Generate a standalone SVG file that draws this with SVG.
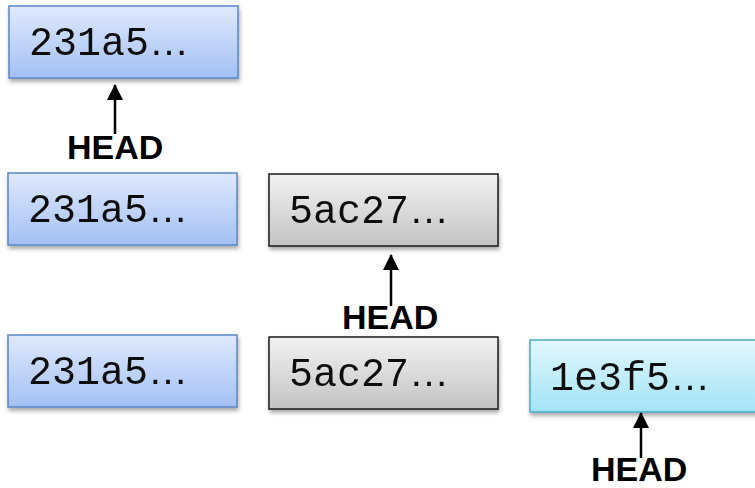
<svg xmlns="http://www.w3.org/2000/svg" width="755" height="488" viewBox="0 0 755 488">
  <defs>
    <linearGradient id="gBlue" x1="0" y1="0" x2="0" y2="1">
      <stop offset="0" stop-color="#dfe9fc"/>
      <stop offset="1" stop-color="#a3c0f3"/>
    </linearGradient>
    <linearGradient id="gGray" x1="0" y1="0" x2="0" y2="1">
      <stop offset="0" stop-color="#f2f2f2"/>
      <stop offset="1" stop-color="#c3c3c3"/>
    </linearGradient>
    <linearGradient id="gCyan" x1="0" y1="0" x2="0" y2="1">
      <stop offset="0" stop-color="#e2f8fe"/>
      <stop offset="1" stop-color="#a2e3f6"/>
    </linearGradient>
    <filter id="shadow" x="-10%" y="-20%" width="120%" height="150%">
      <feGaussianBlur in="SourceAlpha" stdDeviation="2"/>
      <feOffset dx="1" dy="3" result="b"/>
      <feComponentTransfer><feFuncA type="linear" slope="0.35"/></feComponentTransfer>
      <feMerge><feMergeNode/><feMergeNode in="SourceGraphic"/></feMerge>
    </filter>
    <marker id="arrow" viewBox="0 0 16 16" refX="15" refY="8" markerWidth="16" markerHeight="16" markerUnits="userSpaceOnUse" orient="auto">
      <path d="M0,0 L16,8 L0,16 Z" fill="#000"/>
    </marker>
  </defs>
  <style>
    .blue { fill: url(#gBlue); stroke: #5a86c4; stroke-width: 1.5; }
    .gray { fill: url(#gGray); stroke: #1a1a1a; stroke-width: 1.5; }
    .cyan { fill: url(#gCyan); stroke: #4aacc6; stroke-width: 1.5; }
    .hash { font-family: "Liberation Mono", "Courier New", monospace; font-size: 40px; fill: #111; }
    .dots { font-family: "Liberation Sans", Arial, sans-serif; }
    .head { font-family: "Liberation Sans", Arial, sans-serif; font-weight: bold; font-size: 34px; fill: #000; }
    .conn line { stroke: #000; stroke-width: 2.5; }
  </style>

  <!-- row 1 -->
  <g id="c1-row1" filter="url(#shadow)">
    <rect class="blue" x="9" y="6" width="229" height="72"/>
    <text class="hash" x="29" y="55">231a5<tspan class="dots">…</tspan></text>
  </g>
  <g id="head1"><text class="head" x="67" y="159">HEAD</text></g>

  <!-- row 2 -->
  <g id="c1-row2" filter="url(#shadow)">
    <rect class="blue" x="8" y="173" width="229" height="72"/>
    <text class="hash" x="28" y="222">231a5<tspan class="dots">…</tspan></text>
  </g>
  <g id="c2-row2" filter="url(#shadow)">
    <rect class="gray" x="269" y="174" width="229" height="72"/>
    <text class="hash" x="289" y="223">5ac27<tspan class="dots">…</tspan></text>
  </g>
  <g id="head2"><text class="head" x="342" y="329">HEAD</text></g>

  <!-- row 3 -->
  <g id="c1-row3" filter="url(#shadow)">
    <rect class="blue" x="8" y="335" width="229" height="72"/>
    <text class="hash" x="28" y="384">231a5<tspan class="dots">…</tspan></text>
  </g>
  <g id="c2-row3" filter="url(#shadow)">
    <rect class="gray" x="269" y="337" width="229" height="72"/>
    <text class="hash" x="289" y="386">5ac27<tspan class="dots">…</tspan></text>
  </g>
  <g id="c3-row3" filter="url(#shadow)">
    <rect class="cyan" x="530" y="340" width="240" height="72"/>
    <text class="hash" x="550" y="390">1e3f5<tspan class="dots">…</tspan></text>
  </g>
  <g id="head3"><text class="head" x="591" y="481">HEAD</text></g>

  <!-- HEAD pointers -->
  <g id="connectors" class="conn">
    <line x1="115" y1="134" x2="115" y2="85" marker-end="url(#arrow)"/>
    <line x1="391" y1="306" x2="391" y2="255" marker-end="url(#arrow)"/>
    <line x1="641" y1="458" x2="641" y2="413" marker-end="url(#arrow)"/>
  </g>
</svg>
